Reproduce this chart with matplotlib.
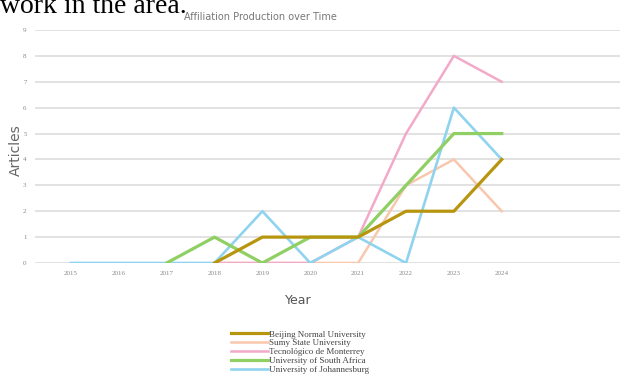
import matplotlib
matplotlib.use("Agg")
import matplotlib.pyplot as plt

# data
years = [2015, 2016, 2017, 2018, 2019, 2020, 2021, 2022, 2023, 2024]
beijing_years = [2018, 2019, 2020, 2021, 2022, 2023, 2024]
beijing = [0, 1, 1, 1, 2, 2, 4]
sumy_years = [2018, 2019, 2020, 2021, 2022, 2023, 2024]
sumy = [0, 0, 0, 0, 3, 4, 2]
tec_years = [2018, 2019, 2020, 2021, 2022, 2023, 2024]
tec = [0, 0, 0, 1, 5, 8, 7]
unisa_years = [2017, 2018, 2019, 2020, 2021, 2022, 2023, 2024]
unisa = [0, 1, 0, 1, 1, 3, 5, 5]
uj_years = years
uj = [0, 0, 0, 0, 2, 0, 1, 0, 6, 4]
y_ticks = list(range(0, 10))

# name, x, y, colour, width
series = [
    ("Sumy State University", sumy_years, sumy, "#f9c7ad", 1.8),
    ("Tecnológico de Monterrey", tec_years, tec, "#f3a9c8", 1.8),
    ("University of Johannesburg", uj_years, uj, "#8fd3ef", 1.9),
    ("University of South Africa", unisa_years, unisa, "#8fcf63", 2.3),
    ("Beijing Normal University", beijing_years, beijing, "#b8950f", 2.3),
]
legend_order = ["Beijing Normal University", "Sumy State University",
                "Tecnológico de Monterrey", "University of South Africa",
                "University of Johannesburg"]

fig = plt.figure(figsize=(6.2, 3.87), dpi=100)
ax = fig.add_axes([35 / 620, 1 - 263 / 387, 1 - 35 / 620, (263 - 30) / 387])

handles = {}
for name, xs, ys, col, w in series:
    (ln,) = ax.plot(xs, ys, color=col, lw=w, zorder=3)
    handles[name] = ln

ax.set_xlim(2014.25, 2026.47)
ax.set_ylim(0, 9)
ax.set_yticks(y_ticks)
ax.set_xticks(years)
ax.grid(axis="y", color="#e2e2e2", lw=1.4)
ax.set_axisbelow(True)
for s in ax.spines.values():
    s.set_visible(False)
ax.tick_params(length=0, labelsize=5, colors="#888888", pad=6)
for lab in ax.get_xticklabels() + ax.get_yticklabels():
    lab.set_family("Liberation Serif")

fig.text(260 / 620, 1 - 17 / 387, "Affiliation Production over Time",
         ha="center", va="center", fontsize=7, color="#777777",
         family="Liberation Sans Narrow")
fig.text(16 / 620, 1 - 150 / 387, "Articles", rotation=90,
         ha="center", va="center", fontsize=10, color="#666666")
fig.text(298 / 620, 1 - 300 / 387, "Year", ha="center", va="center",
         fontsize=9, color="#555555")

# text from the surrounding document, cut at the top
fig.text(0.0, 1 - 13 / 387, "work in the area.", ha="left", va="baseline",
         fontsize=20, family="Liberation Serif", color="black")

fig.legend([handles[n] for n in legend_order], legend_order,
           loc="center", bbox_to_anchor=(300 / 620, 1 - 352 / 387),
           frameon=False, prop={"family": "Liberation Serif", "size": 6.5},
           handlelength=4.0, handletextpad=0.1, labelspacing=0.05,
           labelcolor="#444444")

fig.savefig("out.png", dpi=100)
